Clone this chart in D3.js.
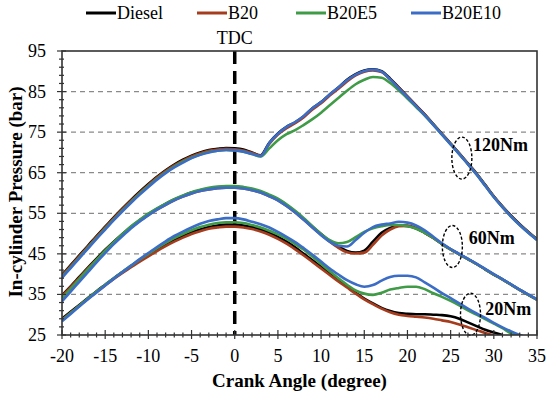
<!DOCTYPE html>
<html>
<head>
<meta charset="utf-8">
<script src="https://cdn.jsdelivr.net/npm/d3@7"></script>
<style>
  body { margin: 0; background: #fff; }
  svg text { font-family: "Liberation Serif", "DejaVu Serif", "Times New Roman", serif; }
</style>
</head>
<body>
<div id="root"></div>
<script>
// crank angle (degree)
const angles = [-20,-19,-18,-17,-16,-15,-14,-13,-12,-11,-10,-9,-8,-7,-6,-5,-4,-3,-2,-1,0,
  1,2,3,4,5,6,7,8,9,10,11,12,13,14,15,16,17,18,19,20,
  21,22,23,24,25,26,27,28,29,30,31,32,33,34,35];

const fuels = ["Diesel", "B20", "B20E5", "B20E10"];
const colors = ["#000000", "#a63c1e", "#3f9b46", "#3b6cc6"];

// in-cylinder pressure (bar), 120 Nm
const diesel120 = [39.8,42.2,44.6,47.0,49.4,51.7,54.0,56.2,58.3,60.3,62.2,64.0,65.6,67.0,68.2,69.2,70.0,70.6,70.9,71.1,71.0,
  70.7,70.0,69.3,72.4,74.7,76.3,77.4,78.9,80.9,82.4,84.3,86.0,87.9,89.3,90.2,90.5,90.0,88.2,86.0,83.8,
  81.6,79.4,77.0,74.6,72.2,69.8,67.3,64.8,62.0,59.2,56.7,54.4,52.3,50.4,48.6];
const b20_120 = [39.6,42.0,44.4,46.8,49.2,51.5,53.8,56.0,58.1,60.1,62.0,63.8,65.4,66.8,68.0,69.0,69.8,70.4,70.7,70.9,70.8,
  70.5,69.9,69.2,72.1,74.4,76.0,77.2,78.7,80.6,82.1,84.0,85.7,87.5,89.0,89.9,90.2,89.8,88.0,85.9,83.7,
  81.5,79.3,76.9,74.5,72.1,69.7,67.2,64.7,61.9,59.1,56.6,54.3,52.2,50.3,48.5];
const b20e5_120 = [39.3,41.7,44.1,46.5,48.9,51.2,53.5,55.7,57.8,59.8,61.7,63.5,65.1,66.5,67.7,68.7,69.5,70.1,70.4,70.6,70.5,
  70.2,69.6,69.0,71.0,73.0,74.5,75.5,76.8,78.2,79.8,81.6,83.4,85.2,86.8,87.9,88.6,88.4,87.1,85.3,83.3,
  81.2,79.1,76.8,74.4,72.0,69.6,67.1,64.6,61.8,59.0,56.5,54.2,52.1,50.2,48.5];
const b20e10_120 = [39.1,41.5,43.9,46.3,48.7,51.0,53.3,55.5,57.6,59.6,61.5,63.3,64.9,66.3,67.5,68.6,69.4,70.0,70.4,70.6,70.5,
  70.2,69.6,69.1,72.3,74.6,76.3,77.5,79.0,80.9,82.4,84.3,86.0,87.8,89.2,90.1,90.4,89.9,88.0,85.8,83.6,
  81.4,79.2,76.8,74.4,72.0,69.6,67.1,64.6,61.8,59.0,56.5,54.2,52.1,50.2,48.4];

// 60 Nm
const diesel60 = [34.8,37.0,39.3,41.6,43.8,46.0,48.0,49.9,51.7,53.3,54.8,56.1,57.3,58.4,59.3,60.1,60.7,61.1,61.4,61.5,61.4,
  61.3,60.9,60.3,59.4,58.4,57.0,55.4,53.6,51.7,49.9,48.2,46.8,45.7,45.3,45.8,48.0,50.2,51.4,52.0,51.9,
  51.3,50.2,48.9,47.4,46.1,44.9,43.7,42.5,41.2,39.9,38.7,37.4,36.1,34.9,33.7];
const b20_60 = [34.6,36.8,39.1,41.4,43.6,45.8,47.8,49.7,51.5,53.1,54.6,55.9,57.1,58.2,59.1,59.9,60.5,60.9,61.2,61.3,61.3,
  61.1,60.7,60.1,59.2,58.2,56.8,55.2,53.4,51.5,49.7,48.0,46.5,45.4,45.1,45.3,47.2,49.5,51.0,51.8,51.9,
  51.3,50.2,48.9,47.4,46.1,44.9,43.7,42.5,41.2,39.9,38.7,37.4,36.1,34.9,33.7];
const b20e5_60 = [34.1,36.4,38.8,41.2,43.5,45.8,47.9,49.9,51.8,53.4,54.9,56.2,57.4,58.5,59.4,60.2,60.8,61.3,61.6,61.7,61.7,
  61.5,61.1,60.5,59.6,58.6,57.2,55.6,53.8,51.8,49.9,48.4,47.6,47.9,49.1,50.4,51.3,51.8,52.1,52.1,51.8,
  51.2,50.2,48.9,47.4,46.1,44.9,43.7,42.5,41.2,39.9,38.7,37.4,36.1,34.9,33.7];
const b20e10_60 = [33.3,35.7,38.1,40.5,42.9,45.2,47.4,49.4,51.3,53.0,54.5,55.9,57.1,58.2,59.1,59.9,60.5,60.9,61.2,61.3,61.3,
  61.1,60.7,60.1,59.2,58.2,56.8,55.2,53.4,51.5,49.6,48.0,47.0,46.8,48.4,50.2,51.6,52.2,52.5,52.9,52.7,
  52.0,50.8,49.2,47.6,46.2,45.0,43.8,42.6,41.3,40.0,38.8,37.5,36.2,35.0,33.8];

// 20 Nm
const diesel20 = [29.0,30.7,32.4,34.1,35.8,37.4,39.0,40.5,42.0,43.4,44.8,46.1,47.3,48.4,49.4,50.3,51.0,51.6,52.0,52.2,52.2,
  52.0,51.6,51.0,50.2,49.2,48.0,46.6,45.0,43.4,41.8,40.2,38.6,37.0,35.4,34.0,32.8,31.7,30.9,30.4,30.2,
  30.1,30.1,30.0,29.9,29.6,29.0,28.1,27.2,26.3,25.6,25.0,null,null,null,null];
const b20_20 = [28.8,30.5,32.2,33.9,35.6,37.2,38.8,40.3,41.7,43.1,44.4,45.7,46.9,48.0,49.0,49.9,50.6,51.2,51.5,51.7,51.7,
  51.5,51.1,50.5,49.7,48.7,47.5,46.1,44.6,43.0,41.4,39.8,38.2,36.7,35.2,33.8,32.6,31.5,30.6,30.0,29.7,
  29.5,29.3,29.0,28.6,28.2,27.6,26.9,26.2,25.5,24.9,null,null,null,null,null];
const b20e5_20 = [28.6,30.4,32.2,34.0,35.7,37.4,39.0,40.6,42.1,43.6,45.0,46.4,47.7,48.9,49.9,50.8,51.6,52.2,52.6,52.8,52.8,
  52.6,52.1,51.5,50.7,49.8,48.7,47.4,46.0,44.3,42.5,40.7,39.0,37.4,36.0,35.2,34.9,35.4,36.2,36.6,36.9,
  36.9,36.3,35.3,34.4,33.4,32.3,31.1,30.0,28.9,27.8,26.7,25.4,24.8,null,null];
const b20e10_20 = [28.4,30.2,32.0,33.8,35.5,37.2,38.9,40.5,42.1,43.7,45.2,46.7,48.1,49.4,50.5,51.5,52.4,53.1,53.5,53.8,53.8,
  53.5,52.9,52.3,51.5,50.4,49.2,47.9,46.4,44.8,43.1,41.4,39.9,38.5,37.5,36.9,37.3,38.4,39.3,39.6,39.6,
  39.2,38.0,36.7,35.3,34.1,32.8,31.5,30.3,29.2,28.0,26.9,25.9,25.0,24.3,null];

// tick labels
const xTicks = [-20,-15,-10,-5,0,5,10,15,20,25,30,35];
const yTicks = [25,35,45,55,65,75,85,95];
const gridValues = [35,45,55,65,75,85];

// load annotations
const loadLabels = ["120Nm", "60Nm", "20Nm"];
const ringAngle = [26.3, 25.2, 27.3];
const ringPressure = [68.6, 46.8, 30.1];
const labelAngle = [27.6, 27.1, 29.0];
const labelPressure = [70.3, 47.5, 29.9];

const width = 550, height = 397;
const margin = { top: 51, right: 13, bottom: 62, left: 62 };
const plotW = width - margin.left - margin.right;
const plotH = height - margin.top - margin.bottom;
const serif = "'Liberation Serif', 'DejaVu Serif', 'Times New Roman', serif";

const svg = d3.select("#root").append("svg")
  .attr("width", width).attr("height", height)
  .attr("font-family", serif);
svg.append("rect").attr("width", width).attr("height", height).attr("fill", "#fff");

const x = d3.scaleLinear().domain([-20, 35]).range([0, plotW]);
const y = d3.scaleLinear().domain([25, 95]).range([plotH, 0]);

const g = svg.append("g").attr("transform", "translate(" + margin.left + "," + margin.top + ")");

g.append("defs").append("clipPath").attr("id", "clip")
  .append("rect").attr("width", plotW).attr("height", plotH);

// dashed grid
g.selectAll(".grid").data(gridValues).enter().append("line")
  .attr("x1", 0).attr("x2", plotW)
  .attr("y1", d => y(d)).attr("y2", d => y(d))
  .attr("stroke", "#8a8a8a").attr("stroke-width", 1.3)
  .attr("stroke-dasharray", "5,4");

// TDC line
g.append("line")
  .attr("x1", x(0)).attr("x2", x(0))
  .attr("y1", 0).attr("y2", plotH)
  .attr("stroke", "#000").attr("stroke-width", 3.5)
  .attr("stroke-dasharray", "13,7");

g.append("text")
  .attr("x", x(0)).attr("y", -7)
  .attr("text-anchor", "middle")
  .attr("font-size", 18)
  .text("TDC");

// curves
const series = [
  [diesel120, diesel60, diesel20],
  [b20_120, b20_60, b20_20],
  [b20e5_120, b20e5_60, b20e5_20],
  [b20e10_120, b20e10_60, b20e10_20]
];

const line = d3.line()
  .defined(d => d[1] != null)
  .x(d => x(d[0]))
  .y(d => y(d[1]))
  .curve(d3.curveMonotoneX);

series.forEach((loads, i) => {
  loads.forEach(vals => {
    g.append("path")
      .datum(angles.map((a, k) => [a, vals[k]]))
      .attr("fill", "none")
      .attr("stroke", colors[i])
      .attr("stroke-width", 2.6)
      .attr("stroke-linejoin", "round")
      .attr("clip-path", "url(#clip)")
      .attr("d", line);
  });
});

// load rings and labels
loadLabels.forEach((lab, i) => {
  g.append("ellipse")
    .attr("cx", x(ringAngle[i])).attr("cy", y(ringPressure[i]))
    .attr("rx", 10).attr("ry", 21)
    .attr("fill", "none").attr("stroke", "#000")
    .attr("stroke-width", 1.4).attr("stroke-dasharray", "3,2");
  g.append("text")
    .attr("x", x(labelAngle[i])).attr("y", y(labelPressure[i]))
    .attr("font-size", 18).attr("font-weight", "bold")
    .text(lab);
});

// axes: minor/major ticks crossing the axis lines
const axisColor = "#333";
g.selectAll(".xminor").data(angles).enter().append("line")
  .attr("x1", d => x(d)).attr("x2", d => x(d))
  .attr("y1", d => plotH - (xTicks.includes(d) ? 5 : 2.5))
  .attr("y2", d => plotH + (xTicks.includes(d) ? 4 : 2.5))
  .attr("stroke", axisColor).attr("stroke-width", 1.2);

const yMinor = d3.range(25, 96, 2);
g.selectAll(".yminor").data(yMinor).enter().append("line")
  .attr("y1", d => y(d)).attr("y2", d => y(d))
  .attr("x1", d => (yTicks.includes(d) ? -5 : -3))
  .attr("x2", d => (yTicks.includes(d) ? 4 : 2))
  .attr("stroke", axisColor).attr("stroke-width", 1.2);

g.append("rect")
  .attr("width", plotW).attr("height", plotH)
  .attr("fill", "none").attr("stroke", axisColor).attr("stroke-width", 1.6);

g.selectAll(".xlab").data(xTicks).enter().append("text")
  .attr("x", d => x(d)).attr("y", plotH + 27)
  .attr("text-anchor", "middle").attr("font-size", 18)
  .text(d => d);

g.selectAll(".ylab").data(yTicks).enter().append("text")
  .attr("x", -16).attr("y", d => y(d) + 6)
  .attr("text-anchor", "end").attr("font-size", 18)
  .text(d => d);

g.append("text")
  .attr("x", plotW / 2).attr("y", plotH + 52)
  .attr("text-anchor", "middle")
  .attr("font-size", 19).attr("font-weight", "bold")
  .text("Crank Angle (degree)");

g.append("text")
  .attr("transform", "rotate(-90)")
  .attr("x", -141).attr("y", -40)
  .attr("text-anchor", "middle")
  .attr("font-size", 19).attr("font-weight", "bold")
  .text("In-cylinder Pressure (bar)");

// legend
const legendX = [86, 197, 296, 411];
const leg = svg.append("g");
fuels.forEach((f, i) => {
  leg.append("line")
    .attr("x1", legendX[i]).attr("x2", legendX[i] + 30)
    .attr("y1", 13).attr("y2", 13)
    .attr("stroke", colors[i]).attr("stroke-width", 3);
  leg.append("text")
    .attr("x", legendX[i] + 31).attr("y", 19)
    .attr("font-size", 18)
    .text(f);
});
</script>
</body>
</html>
